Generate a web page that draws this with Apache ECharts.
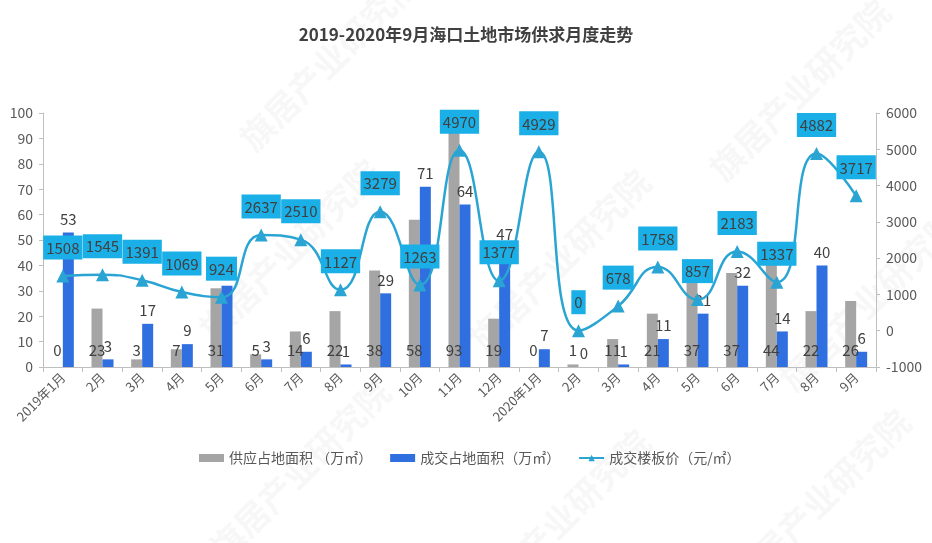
<!DOCTYPE html>
<html>
<head>
<meta charset="utf-8">
<script src="https://cdn.jsdelivr.net/npm/echarts@6/dist/echarts.min.js"></script>
<style>
  html, body { margin: 0; padding: 0; background: #fff; }
  #chart { width: 932px; height: 543px; }
</style>
</head>
<body>
<div id="chart"></div>
<script>
// Monthly categories, Jan 2019 – Sep 2020
const months = ['2019年1月','2月','3月','4月','5月','6月','7月','8月','9月','10月','11月','12月',
                '2020年1月','2月','3月','4月','5月','6月','7月','8月','9月'];
// Supply land area (10k m²)
const supplyArea = [0,23,3,7,31,5,14,22,38,58,93,19,0,1,11,21,37,37,44,22,26];
// Transacted land area (10k m²)
const dealArea = [53,3,17,9,32,3,6,1,29,71,64,47,7,0,1,11,21,32,14,40,6];
// Transacted floor price (yuan/m²)
const floorPrice = [1508,1545,1391,1069,924,2637,2510,1127,3279,1263,4970,1377,4929,0,678,1758,857,2183,1337,4882,3717];

const seriesNames = ['供应占地面积 （万㎡）', '成交占地面积（万㎡）', '成交楼板价（元/㎡）'];

const FONT = '"Noto Sans CJK SC", "Noto Sans", sans-serif';
const TXT = '#404040';
const AX = '#595959';

const chart = echarts.init(document.getElementById('chart'), null, { renderer: 'canvas' });

// faint diagonal brand marks in the background
const marks = [[330,60],[800,90],[290,250],[560,260],[870,300],[300,470],[820,500],[560,520]].map(p => ({
  type: 'text', x: p[0], y: p[1], rotation: Math.PI / 4, z: -1,
  style: { text: '旗居产业研究院', fill: 'rgba(150,150,150,0.08)', font: 'bold 34px ' + FONT, align: 'center', verticalAlign: 'middle' }
}));

chart.setOption({
  backgroundColor: '#fff',
  animation: false,
  textStyle: { fontFamily: FONT },
  title: {
    text: '2019-2020年9月海口土地市场供求月度走势',
    left: 'center', top: 21,
    textStyle: { fontSize: 17, fontWeight: 'bold', color: TXT, fontFamily: FONT }
  },
  graphic: marks,
  legend: {
    left: 194, top: 446,
    itemGap: 18, itemWidth: 25, itemHeight: 8,
    textStyle: { fontSize: 14, color: AX, fontFamily: FONT },
    data: [
      { name: seriesNames[0], icon: 'rect' },
      { name: seriesNames[1], icon: 'rect' },
      { name: seriesNames[2] }
    ]
  },
  grid: { left: 43, right: 56, top: 113, bottom: 176 },
  xAxis: {
    type: 'category',
    data: months,
    boundaryGap: true,
    axisLine: { lineStyle: { color: '#bfbfbf' } },
    axisTick: { show: true, length: 5, lineStyle: { color: '#bfbfbf' } },
    axisLabel: { rotate: 45, fontSize: 13, color: AX, margin: 8, interval: 0 }
  },
  yAxis: [
    {
      type: 'value', min: 0, max: 100, interval: 10,
      axisLine: { show: true, lineStyle: { color: '#bfbfbf' } },
      axisTick: { show: true, length: 4, lineStyle: { color: '#bfbfbf' } },
      splitLine: { show: false },
      axisLabel: { fontSize: 14, color: AX, margin: 10 }
    },
    {
      type: 'value', min: -1000, max: 6000, interval: 1000,
      axisLine: { show: true, lineStyle: { color: '#bfbfbf' } },
      axisTick: { show: true, length: 4, lineStyle: { color: '#bfbfbf' } },
      splitLine: { show: false },
      axisLabel: { fontSize: 14, color: AX, margin: 10, formatter: v => String(v) }
    }
  ],
  series: [
    {
      name: seriesNames[0], type: 'bar', yAxisIndex: 0,
      data: supplyArea, barWidth: 11, barGap: '0%',
      itemStyle: { color: '#a5a5a5' },
      label: { show: true, position: 'insideBottom', distance: 9, fontSize: 15, color: TXT }
    },
    {
      name: seriesNames[1], type: 'bar', yAxisIndex: 0,
      data: dealArea, barWidth: 11,
      itemStyle: { color: '#2f6fe0' },
      label: { show: true, position: 'top', distance: 6, fontSize: 15, color: TXT }
    },
    {
      name: seriesNames[2], type: 'line', yAxisIndex: 1,
      data: floorPrice, smooth: 0.5,
      symbol: 'triangle', symbolSize: 13,
      lineStyle: { color: '#2aa5d3', width: 2.5 },
      itemStyle: { color: '#2aa5d3' },
      label: {
        show: true, position: 'top', distance: 10,
        fontSize: 15, color: TXT,
        backgroundColor: '#1aafe6', padding: [5, 3, 4, 3]
      },
      z: 5
    }
  ]
});
</script>
</body>
</html>
